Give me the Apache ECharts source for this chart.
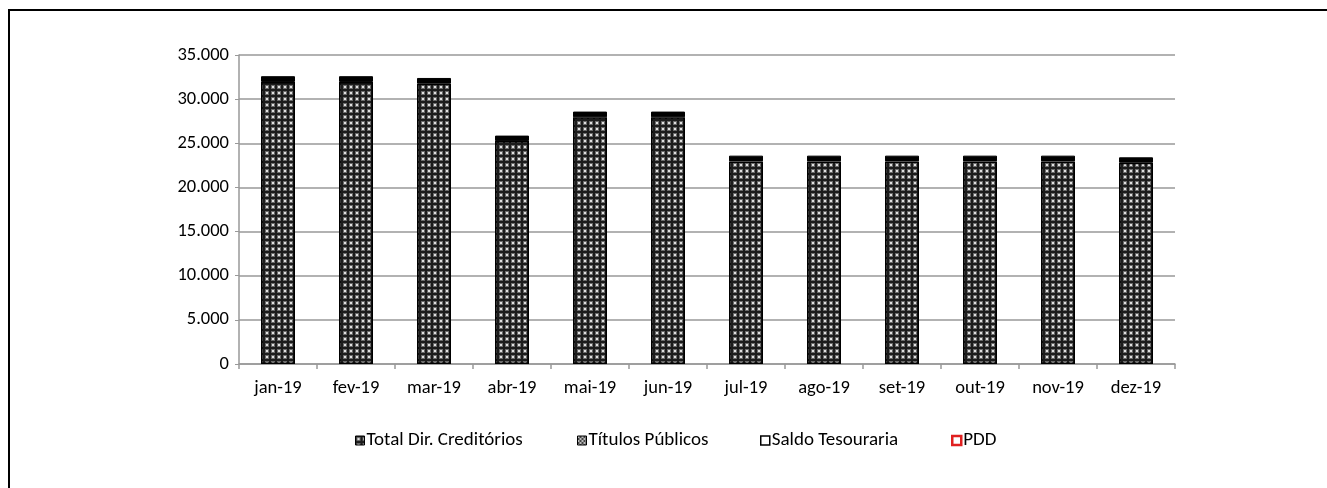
<!DOCTYPE html>
<html>
<head>
<meta charset="utf-8">
<script src="https://cdn.jsdelivr.net/npm/echarts@6/dist/echarts.min.js"></script>
<style>
  html, body { margin: 0; padding: 0; background: #fff; }
  #main { width: 1327px; height: 488px; }
</style>
</head>
<body>
<div id="main"></div>
<script>
// categorias (meses)
var meses = ['jan-19', 'fev-19', 'mar-19', 'abr-19', 'mai-19', 'jun-19', 'jul-19', 'ago-19', 'set-19', 'out-19', 'nov-19', 'dez-19'];
// series empilhadas
var totalDirCred = [31950, 31950, 31750, 25250, 27950, 27950, 22950, 22950, 22950, 22950, 22950, 22800];
var titulosPub = [650, 650, 650, 620, 640, 640, 650, 650, 650, 650, 650, 610];
var saldoTes = [0, 0, 0, 0, 0, 0, 0, 0, 0, 0, 0, 0];
var pdd = [0, 0, 0, 0, 0, 0, 0, 0, 0, 0, 0, 0];
// eixo y
var yTicks = [0, 5000, 10000, 15000, 20000, 25000, 30000, 35000];
// nomes da legenda
var nomes = ['Total Dir. Creditórios', 'Títulos Públicos', 'Saldo Tesouraria', 'PDD'];

var FONT = 'Carlito, "Open Sans"';

//textura pontilhada das barras
function makePattern() {
  var c = document.createElement('canvas');
  c.width = 6;
  c.height = 6;
  var ctx = c.getContext('2d');
  ctx.fillStyle = '#1c1c1c';
  ctx.fillRect(0, 0, 6, 6);
  ctx.fillStyle = '#6a6a6a';
  ctx.fillRect(1, 1, 4, 4);
  ctx.fillStyle = '#e0e0e0';
  ctx.fillRect(2, 2, 2, 2);
  return c;
}
function makeChecker() {
  var c = document.createElement('canvas');
  c.width = 4;
  c.height = 4;
  var ctx = c.getContext('2d');
  ctx.fillStyle = '#444';
  ctx.fillRect(0, 0, 4, 4);
  ctx.fillStyle = '#bbb';
  ctx.fillRect(0, 0, 2, 2);
  ctx.fillRect(2, 2, 2, 2);
  return c;
}

var dotted = makePattern();
var checker = makeChecker();

function fmt(v) {
  return String(v).replace(/\B(?=(\d{3})+(?!\d))/g, '.');
}

var legendStyles = [
  { color: { image: dotted, repeat: 'repeat' }, borderColor: '#000', borderWidth: 1 },
  { color: { image: checker, repeat: 'repeat' }, borderColor: '#000', borderWidth: 1 },
  { color: '#fff', borderColor: '#000', borderWidth: 1.5 },
  { color: '#fff', borderColor: '#e02020', borderWidth: 2.5 }
];
var legendLeft = [350, 572, 755, 946];

var legends = [];
for (var i = 0; i < nomes.length; i++) {
  legends.push({
    left: legendLeft[i],
    top: 426,
    itemWidth: 9,
    itemHeight: 9,
    itemGap: 0,
    textStyle: { fontFamily: FONT, fontSize: 19, color: '#000', padding: [0, 0, 0, -3] },
    data: [{ name: nomes[i], icon: 'rect', itemStyle: legendStyles[i] }]
  });
}

var chart = echarts.init(document.getElementById('main'), null, { renderer: 'canvas' });

var option = {
  backgroundColor: '#fff',
  animation: false,
  textStyle: { fontFamily: FONT },
  graphic: [{
    type: 'rect',
    shape: { x: 9, y: 10, width: 1400, height: 600 },
    style: { fill: 'none', stroke: '#000', lineWidth: 2 }
  }],
  grid: { left: 239, right: 152, top: 55, bottom: 124 },
  legend: legends,
  xAxis: {
    type: 'category',
    data: meses,
    axisLine: { lineStyle: { color: '#999', width: 1.5 } },
    axisTick: { show: true, length: 5, lineStyle: { color: '#999', width: 1.5 } },
    axisLabel: { color: '#000', fontSize: 18.5, fontFamily: FONT, margin: 15 }
  },
  yAxis: {
    type: 'value',
    min: 0,
    max: 35000,
    interval: 5000,
    axisLine: { show: true, lineStyle: { color: '#999', width: 1.5 } },
    axisTick: { show: true, length: 4, lineStyle: { color: '#999' } },
    splitLine: { lineStyle: { color: '#999', width: 1.5 } },
    axisLabel: {
      color: '#000', fontSize: 18.5, fontFamily: FONT, margin: 10,
      formatter: function (v) { return yTicks.indexOf(v) >= 0 ? fmt(v) : ''; }
    }
  },
  series: [
    {
      name: nomes[0], type: 'bar', stack: 'a', barWidth: 34,
      data: totalDirCred,
      itemStyle: { color: { image: dotted, repeat: 'repeat' }, borderColor: '#000', borderWidth: 1.5 }
    },
    {
      name: nomes[1], type: 'bar', stack: 'a', barWidth: 34,
      data: titulosPub,
      itemStyle: { color: '#000', borderColor: '#000', borderWidth: 1 }
    },
    {
      name: nomes[2], type: 'bar', stack: 'a', barWidth: 34,
      data: saldoTes,
      itemStyle: { color: '#fff', borderColor: '#000', borderWidth: 0 }
    },
    {
      name: nomes[3], type: 'bar', stack: 'a', barWidth: 34,
      data: pdd,
      itemStyle: { color: '#fff', borderColor: '#e02020', borderWidth: 0 }
    }
  ]
};

chart.setOption(option);
</script>
</body>
</html>
